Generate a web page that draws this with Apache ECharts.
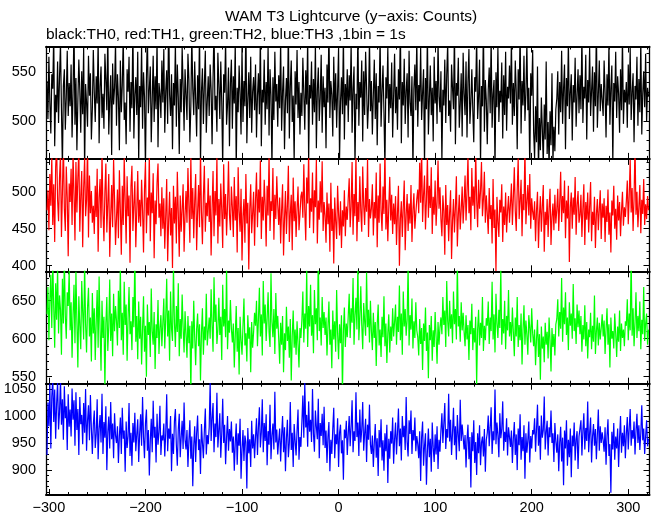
<!DOCTYPE html>
<html>
<head>
<meta charset="utf-8">
<script src="https://cdn.jsdelivr.net/npm/echarts@6/dist/echarts.min.js"></script>
<style>html,body{margin:0;padding:0;background:#fff}#c{width:652px;height:515px}</style>
</head>
<body>
<div id="c"></div>
<script>
// Time of first bin (s) and bin width (s)
const T0 = -302;
const BIN = 1;
const titleText = 'WAM T3 Lightcurve (y\u2212axis: Counts)';
const subText = 'black:TH0, red:TH1, green:TH2, blue:TH3 ,1bin = 1s';
const xMajor = [-300, -200, -100, 0, 100, 200, 300];
const xMinor = [-280,-260,-240,-220,-180,-160,-140,-120,-80,-60,-40,-20,20,40,60,80,120,140,160,180,220,240,260,280,320];

const TH0 = [
541,502,566,519,487,548,533,590,474,527,509,561,498,545,580,512,452,536,553,491,524,572,505,539,
515,558,483,529,601,496,544,470,521,563,532,488,551,507,576,448,538,519,494,567,526,549,481,512,
573,530,499,546,518,584,477,535,556,503,528,492,569,542,511,595,486,523,547,465,559,517,534,581,
495,548,524,470,562,509,537,588,501,519,476,553,530,566,489,540,513,598,482,527,545,506,571,458,
536,514,577,492,550,525,450,543,591,508,532,556,478,521,567,499,546,512,585,473,539,528,503,562,
519,574,488,531,552,497,610,527,505,548,471,539,516,580,494,558,524,466,543,509,576,535,490,553,
527,501,569,542,478,515,589,533,506,561,522,484,547,512,595,455,530,554,497,537,572,488,520,546,
505,558,532,476,543,598,511,526,489,570,537,502,561,520,453,548,529,584,496,517,555,474,539,563,
492,546,518,581,449,534,509,557,528,486,575,499,541,515,604,477,522,550,503,566,488,530,545,511,
558,483,526,549,507,590,474,532,519,563,496,540,512,578,485,553,527,452,545,501,571,520,538,494,
547,513,582,490,530,556,471,521,544,508,597,482,535,562,499,526,458,551,517,573,503,540,486,529,
505,565,528,491,552,517,586,457,537,523,561,496,543,509,579,472,531,555,500,524,568,488,546,514,
534,472,558,519,597,503,541,527,484,566,511,549,493,532,575,460,520,545,507,589,481,538,516,553,
499,547,521,580,488,533,556,454,528,512,593,495,540,524,562,479,551,506,571,535,492,518,584,510,
541,486,527,563,502,549,475,536,519,588,494,530,557,509,451,545,523,576,498,538,513,560,483,526,
569,508,535,491,553,522,601,477,540,516,564,497,531,549,483,572,519,505,546,449,533,558,511,587,
494,537,520,575,501,529,553,455,544,512,590,486,523,557,506,534,479,566,518,541,497,582,525,509,
551,458,532,516,563,498,547,580,505,521,489,558,534,512,596,476,539,526,565,493,517,549,484,570,
528,506,561,483,540,574,497,519,553,511,478,545,530,587,502,525,563,456,536,515,599,489,542,521,
476,532,555,508,586,493,527,542,450,550,514,576,499,531,519,560,482,547,506,571,490,535,523,557,
518,584,496,539,505,562,530,471,553,522,595,487,541,516,567,500,528,580,511,534,448,549,526,573,
489,462,515,478,556,447,503,470,524,492,455,517,481,561,466,499,452,510,475,549,458,494,469,512,
523,551,486,540,509,572,497,533,558,471,544,515,583,502,529,548,480,537,519,565,494,526,553,508,
547,512,590,498,535,523,568,481,542,519,576,505,531,556,489,550,515,599,493,527,562,510,538,521,
505,562,529,483,548,516,581,496,534,557,456,539,520,571,503,546,528,488,553,511,587,497,532,519,
540,493,558,517,575,501,530,549,478,536,522,566,495,543,509,584,486,528,551,514,569,499,534,525
];
const TH1 = [
475,502,448,524,481,547,455,510,432,533,562,489,460,519,551,439,498,571,477,447,534,492,413,511,
486,531,455,552,497,434,540,472,519,558,446,494,528,425,505,546,467,488,566,438,522,471,501,458,
481,443,508,466,531,419,492,517,451,553,474,433,500,538,445,485,524,412,468,509,452,544,490,428,
464,503,437,529,476,415,508,455,546,486,430,521,467,495,404,507,535,447,483,514,425,474,528,458,
489,453,516,475,418,503,540,444,492,468,552,433,499,471,525,410,488,456,512,538,465,484,440,506,
450,491,423,469,517,406,461,500,441,478,397,508,457,493,430,527,471,412,495,446,477,510,419,468,
501,458,532,480,431,548,463,505,437,487,524,421,473,509,452,555,472,429,494,535,446,485,467,518,
459,495,414,477,528,440,501,468,547,430,490,453,511,476,424,537,463,497,441,482,541,469,448,507,
479,439,520,461,494,418,533,474,446,504,407,467,490,431,524,457,485,395,476,510,444,471,500,427,
489,526,452,503,472,542,436,493,461,516,481,426,508,468,550,447,487,474,532,435,496,463,521,482,
455,492,430,475,510,414,464,501,443,481,535,432,471,496,421,519,460,487,439,477,507,448,469,494,
500,465,537,476,434,519,484,553,451,491,473,526,444,502,479,543,430,488,462,514,472,541,447,486,
468,431,499,456,484,419,512,447,477,403,492,460,436,508,470,441,487,424,475,453,502,440,480,462,
491,518,452,480,540,442,497,467,551,433,486,459,521,474,446,534,482,455,505,473,544,439,490,464,
478,510,441,486,464,526,425,495,458,538,474,447,507,470,559,449,489,433,480,520,461,496,443,484,
456,494,428,472,508,400,463,487,439,479,515,421,469,497,447,484,457,509,432,475,498,450,471,490,
503,471,539,485,561,459,496,522,449,489,548,465,508,478,533,443,493,469,515,454,486,542,477,506,
463,440,495,474,415,509,455,482,433,472,502,409,461,490,445,479,521,426,468,496,449,476,507,457,
486,522,461,499,548,471,493,448,532,481,507,463,555,489,452,516,477,501,540,467,490,527,458,495,
471,443,505,463,482,430,517,451,476,393,493,460,439,489,472,510,432,480,455,499,445,474,494,458,
483,511,455,492,533,474,447,502,545,463,488,516,440,497,475,561,456,486,509,468,524,450,491,473,
462,487,433,475,500,424,468,494,446,480,509,419,473,455,490,439,478,504,428,466,484,448,496,457,
476,504,447,485,527,459,494,471,515,437,488,464,508,405,479,499,450,492,469,520,442,482,501,458,
469,496,439,477,510,428,486,462,499,445,480,513,433,473,455,493,424,470,490,448,476,502,436,484,
465,491,432,481,459,503,442,472,418,488,468,508,450,477,435,495,461,486,440,474,500,454,479,466,
487,515,456,495,543,472,505,447,490,566,469,500,452,480,509,444,489,470,517,455,483,463,494,475
];
const TH2 = [
632,668,598,651,684,614,702,642,588,673,625,695,607,657,638,579,679,620,708,630,600,661,643,690,
611,648,575,632,671,594,688,623,562,656,617,586,676,635,599,700,619,582,641,667,603,628,570,660,
607,640,572,622,664,588,682,612,558,650,601,629,536,620,655,584,616,678,597,633,577,659,610,643,
624,591,663,614,694,598,634,579,675,618,645,571,628,668,606,623,585,655,615,712,596,630,573,649,
600,629,566,613,656,583,617,550,645,605,622,576,666,610,592,635,560,619,601,651,580,614,631,590,
620,653,587,628,679,603,637,571,662,613,597,696,621,589,643,609,673,577,626,600,658,615,582,636,
606,575,630,594,617,530,623,587,650,602,565,613,633,590,619,545,608,640,579,616,598,659,591,610,
628,600,665,617,583,681,622,645,593,612,654,605,629,572,671,616,639,602,692,586,624,608,651,613,
595,620,562,604,643,583,614,553,629,598,579,617,653,591,607,570,631,600,615,556,622,588,609,634,
617,650,590,626,667,603,632,578,676,620,645,597,627,661,609,589,686,622,602,639,580,660,613,630,
600,567,621,592,630,556,607,585,642,597,616,575,626,545,604,637,588,612,579,623,593,562,614,601,
625,662,595,633,613,690,589,643,616,671,604,631,581,664,619,640,598,715,610,628,591,655,614,635,
605,628,578,616,649,592,612,561,637,599,623,583,664,607,573,619,594,631,528,610,641,589,620,602,
630,659,601,640,621,680,592,631,654,612,701,598,628,669,618,586,647,623,604,687,615,638,595,650,
610,585,634,601,622,564,618,645,591,612,576,629,602,656,590,620,568,607,632,582,616,597,640,603,
622,645,592,629,609,670,598,633,579,662,616,639,604,625,697,591,631,612,653,587,623,601,648,611,
602,578,626,593,614,559,620,597,641,584,608,548,618,598,630,571,611,589,635,603,567,622,592,615,
628,606,655,618,637,589,676,623,603,650,613,632,594,662,619,639,599,700,616,630,596,648,611,634,
609,590,631,599,618,572,624,606,646,585,614,595,629,540,612,638,591,621,601,655,584,617,598,627,
617,649,593,628,610,675,599,632,582,659,620,601,638,614,693,592,626,607,650,586,630,611,664,603,
622,597,641,609,577,628,603,655,589,618,598,633,566,612,644,592,624,605,579,631,614,595,640,607,
590,612,565,600,625,576,606,546,616,587,603,569,621,592,609,574,628,598,557,614,589,606,578,619,
626,652,603,635,613,680,596,641,619,661,605,628,585,648,617,633,600,672,610,627,593,645,615,637,
606,630,583,618,599,644,590,622,574,612,602,634,586,617,596,657,580,610,628,591,621,599,614,632,
603,624,580,613,640,592,619,562,628,600,610,587,633,607,576,616,596,637,584,620,601,612,590,623,
617,652,598,633,611,708,604,640,590,621,661,601,630,610,649,586,625,606,668,597,620,633,592,612
];
const TH3 = [
928,1025,981,1060,940,1037,1070,989,1049,958,1022,1064,975,1007,1068,984,1031,956,1055,996,1018,937,1040,980,
1012,962,1051,993,1029,945,1044,974,1013,928,1035,985,1002,948,1024,969,1050,936,991,1020,955,1039,977,930,
984,1010,941,967,1031,920,976,1002,951,1041,930,989,960,1018,900,971,999,940,1026,957,986,922,1005,964,
950,981,913,963,997,930,1015,958,973,897,990,941,962,1024,926,969,908,987,951,1006,935,966,994,915,
968,1003,945,1035,961,922,987,1012,936,974,890,954,995,933,1028,960,980,914,1004,947,970,1019,928,964,
955,986,925,969,1040,935,977,958,1000,898,967,930,990,1013,946,908,975,1004,924,961,991,939,1025,956,
938,974,906,955,992,921,962,870,946,981,915,968,1001,937,957,893,985,951,922,973,1014,929,965,948,
979,1062,954,996,1024,933,986,961,1043,942,973,1005,923,967,1032,950,984,911,960,1000,936,976,953,990,
932,962,899,951,986,910,968,945,995,884,938,974,917,964,952,866,978,931,957,906,991,940,966,922,
962,996,928,979,1016,942,970,1031,933,987,954,1003,909,972,947,1021,920,964,986,938,1045,951,975,929,
955,977,916,964,1000,933,979,898,959,993,924,950,1026,937,969,906,985,954,927,973,1012,919,961,943,
989,1038,960,1061,979,1002,943,1027,971,993,952,1050,967,934,1010,980,957,1032,922,987,963,1004,946,1017,
941,973,913,962,989,898,956,930,977,1015,922,966,948,996,906,969,984,931,955,882,975,959,991,928,
967,1000,944,980,1029,933,972,954,1044,961,988,926,1012,951,975,1026,936,968,995,915,984,956,1021,947,
930,964,906,951,985,923,959,889,974,942,994,918,955,899,968,935,984,876,958,921,972,949,997,912,
957,988,929,970,1014,944,977,918,1000,961,982,937,1035,952,925,992,967,1010,930,974,955,997,935,963,
948,922,972,880,961,990,908,945,968,873,936,977,924,958,897,988,942,915,966,929,981,902,956,934,
973,1005,950,986,1024,939,976,960,1041,953,993,928,969,1015,946,981,919,1002,965,935,1030,954,984,961,
938,965,905,956,984,920,961,868,970,935,992,913,952,891,968,931,983,909,951,962,925,976,897,956,
969,1001,944,978,1016,930,972,955,1049,948,988,965,924,1005,959,976,1027,936,971,952,996,927,979,961,
943,973,913,959,989,928,966,900,977,946,1003,919,961,935,983,884,968,932,955,990,914,963,940,974,
966,996,934,976,1021,945,982,919,1001,960,974,1036,938,971,991,927,979,961,1010,950,968,915,987,953,
932,966,898,951,980,916,960,872,973,940,992,908,956,924,977,887,964,944,988,918,957,972,902,962,
962,992,927,972,1005,938,978,954,1027,933,969,997,914,962,985,945,976,920,966,1012,936,981,950,970,
955,934,979,910,964,994,926,948,858,971,938,987,919,962,940,977,906,960,1000,932,969,944,983,922,
967,998,938,978,1013,945,974,958,990,929,972,1004,950,983,937,968,1020,955,977,930,963,992,944,958
];

const yMajor = [[500, 550], [400, 450, 500], [550, 600, 650], [900, 950, 1000, 1050]];
const yMinor = [
  [470,480,490,510,520,530,540,560,570],
  [410,420,430,440,460,470,480,490,510,520,530,540],
  [560,570,580,590,610,620,630,640,660,670,680],
  [860,870,880,890,910,920,930,940,960,970,980,990,1010,1020,1030,1040]
];
const yRange = [[461, 576.5], [392.5, 544.3], [540.8, 688.7], [854, 1059.7]];
const series = [TH0, TH1, TH2, TH3];
const colors = ['#000000', '#ff0000', '#00ff00', '#0000ff'];

const FONT = 'Liberation Sans';
const tops = [46.5, 158.9, 271.3, 383.7];
const H = 112.4;
const fmtX = v => (v < 0 ? '\u2212' + Math.abs(v) : String(v));
const fmtY = v => String(v);

const grids = [], xAxes = [], yAxes = [], ser = [];
for (let i = 0; i < 4; i++) {
  grids.push({ left: 46, top: tops[i], width: 603.5, height: H, containLabel: false });
  const xb = { type: 'value', gridIndex: i, min: -303, max: 322, splitLine: { show: false } };
  const mk = (pos, ticks, len, line, label) => Object.assign({}, xb, {
    position: pos,
    axisLine: { show: line, onZero: false, lineStyle: { color: '#000', width: 2 } },
    axisTick: { show: true, inside: true, length: len, customValues: ticks, lineStyle: { color: '#000', width: 1 } },
    axisLabel: { show: label, customValues: xMajor, formatter: fmtX, color: '#000', fontSize: 14.5, fontFamily: FONT, margin: 5 }
  });
  const base = xAxes.length;
  xAxes.push(mk('bottom', xMajor, 6, true, i === 3));
  xAxes.push(mk('bottom', xMinor, 3, false, false));
  xAxes.push(mk('top', xMajor, 6, true, false));
  xAxes.push(mk('top', xMinor, 3, false, false));
  const yb = { type: 'value', gridIndex: i, min: yRange[i][0], max: yRange[i][1], splitLine: { show: false } };
  const mky = (pos, ticks, len, line, label) => Object.assign({}, yb, {
    position: pos,
    axisLine: { show: line, onZero: false, lineStyle: { color: '#000', width: 1.3 } },
    axisTick: { show: true, inside: true, length: len, customValues: ticks, lineStyle: { color: '#000', width: 1 } },
    axisLabel: { show: label, customValues: yMajor[i], formatter: fmtY, color: '#000', fontSize: 14.5, fontFamily: FONT, margin: 10 }
  });
  const ybase = yAxes.length;
  yAxes.push(mky('left', yMajor[i], 6, true, true));
  yAxes.push(mky('left', yMinor[i], 3, false, false));
  yAxes.push(mky('right', yMajor[i], 6, true, false));
  yAxes.push(mky('right', yMinor[i], 3, false, false));
  ser.push({
    type: 'line', xAxisIndex: base, yAxisIndex: ybase, showSymbol: false, symbol: 'none',
    clip: true, animation: false, silent: true,
    lineStyle: { color: colors[i], width: 1.2 },
    data: series[i].map((v, k) => [T0 + k * BIN, v])
  });
}

const chart = echarts.init(document.getElementById('c'), null, { renderer: 'canvas' });
chart.setOption({
  backgroundColor: '#ffffff',
  animation: false,
  title: [
    { text: titleText, left: 351, top: 9, padding: 0, textAlign: 'center', textStyle: { fontSize: 15.5, fontWeight: 'normal', color: '#000', fontFamily: FONT } },
    { text: subText, left: 46, top: 27, padding: 0, textStyle: { fontSize: 15.5, fontWeight: 'normal', color: '#000', fontFamily: FONT } }
  ],
  grid: grids, xAxis: xAxes, yAxis: yAxes, series: ser
});
</script>
</body>
</html>
